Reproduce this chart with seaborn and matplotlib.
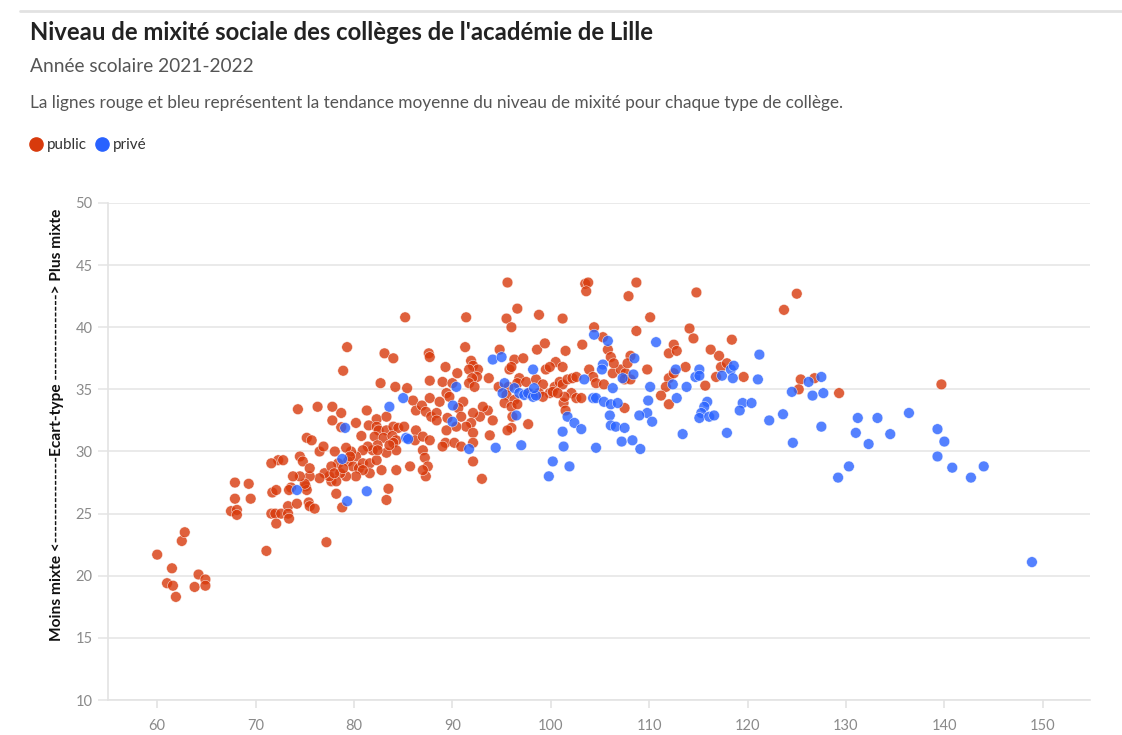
import matplotlib
matplotlib.use("Agg")
import matplotlib.pyplot as plt
from matplotlib.lines import Line2D
import seaborn as sns
import pandas as pd

# ---- data ----
public_x = [60.0, 61.5, 61.0, 61.6, 61.9, 62.5, 62.8, 64.2, 63.8, 64.9, 64.9,
            67.5, 68.1, 68.1, 67.9, 67.9, 69.3, 69.5, 71.1, 71.6, 72.0, 72.1, 72.6, 73.3, 73.3, 73.4,
            71.7, 72.1, 73.6, 73.4, 74.2, 75.1, 75.2, 75.4, 75.5, 76.0, 77.2, 77.7, 78.2, 78.8,
            79.3, 78.9, 83.1, 84.0, 87.6, 87.7, 87.7, 82.7, 84.2, 85.4,
            74.3, 76.3, 77.8, 78.7, 77.8, 78.7, 81.3, 82.3, 83.3, 80.2,
            81.5, 82.3, 82.5, 83.3, 84.0, 84.5, 85.1,
            80.75, 82.1, 83.0, 83.9, 84.3,
            86.3, 86.2, 87.0, 87.7,
            86.0, 86.3, 86.9, 87.3, 87.7, 87.85, 88.4, 88.7, 88.4,
            87.0, 87.2, 87.5, 87.3, 87.0,
            84.0, 84.3, 83.3, 83.6, 82.4, 81.9, 81.4, 80.9, 80.2, 79.7, 79.2, 79.4, 79.9, 80.5,
            80.9, 81.6, 82.3, 82.8, 81.6, 80.9, 80.2, 79.2, 78.6, 78.2, 77.5, 77.0, 76.5, 75.5,
            75.0, 74.5, 73.8,
            72.3, 71.6, 72.8, 74.5, 74.8, 75.5, 76.5, 76.9, 78.05, 78.4, 77.7, 78.0, 78.9, 79.6,
            83.3, 83.5, 84.3, 85.7, 82.4, 75.2, 75.7, 85.2,
            89.0, 90.0, 90.5, 89.4, 89.7,
            95.6, 91.4, 96.6, 95.5, 96.0, 98.8, 101.2, 103.5, 103.8, 103.6, 107.9, 108.7, 110.1,
            108.7, 104.4, 105.3, 103.2, 105.8, 106.1, 108.1, 109.8,
            91.3, 94.8, 96.3, 97.2, 98.6, 99.4, 101.5, 89.3,
            91.9, 92.1, 92.6, 91.7, 92.5, 92.0, 91.7, 92.25, 93.7, 94.7,
            95.8, 96.0, 96.8, 96.6, 97.5,
            95.7, 95.5, 95.3, 96.3, 96.0, 96.1, 96.0, 95.6, 96.6, 97.7, 93.8, 93.6, 94.1, 93.1,
            92.8, 92.1, 91.9, 91.4, 92.1, 91.1, 90.6, 90.9, 90.4, 89.5, 89.4, 89.3, 90.2, 90.9,
            89.0, 92.1, 92.1, 93.0,
            97.8, 98.5, 99.2, 99.9, 100.4, 100.9, 101.2, 101.7, 102.2, 102.6, 100.5, 101.2, 102.1,
            102.6, 103.1, 101.3, 101.5, 101.4, 99.5, 99.9, 98.8, 99.2, 100.2, 100.7, 103.9, 104.3,
            104.6, 105.4, 106.3, 107.1, 107.6, 107.5, 108.1, 107.8, 106.4, 107.5,
            112.0, 112.5, 112.8, 112.0, 111.7, 112.5, 113.7, 114.1, 111.2, 112.0,
            114.8, 114.5, 118.4, 116.25, 117.1, 117.3, 117.9, 115.7, 116.8, 119.6, 123.7, 125.0,
            125.4, 125.2, 126.8, 129.3, 139.7]
public_y = [21.7, 20.6, 19.4, 19.2, 18.3, 22.8, 23.5, 20.1, 19.1, 19.7, 19.2,
            25.2, 25.3, 24.9, 26.2, 27.5, 27.4, 26.2, 22.0, 25.0, 25.0, 24.2, 25.0, 25.6, 25.0, 24.6,
            26.7, 26.9, 27.1, 26.9, 25.8, 27.2, 26.9, 25.9, 25.6, 25.4, 22.7, 27.6, 26.6, 25.5,
            38.4, 36.5, 37.9, 37.5, 37.9, 37.6, 35.7, 35.5, 35.2, 35.1,
            33.4, 33.6, 33.6, 33.1, 32.5, 31.95, 33.3, 32.6, 32.8, 32.3,
            32.1, 32.0, 31.7, 31.7, 32.0, 31.9, 32.0,
            31.25, 31.2, 31.1, 31.25, 30.9,
            31.7, 30.9, 31.2, 30.9,
            34.1, 33.3, 33.7, 33.2, 34.3, 32.8, 33.1, 34.0, 32.5,
            30.1, 29.5, 28.8, 28.0, 28.5,
            30.7, 30.1, 29.9, 30.5, 30.5, 30.1, 30.4, 30.1, 29.6, 30.0, 30.3, 29.2, 28.8, 28.65,
            29.05, 29.05, 29.3, 28.5, 28.25, 28.5, 28.0, 28.0, 28.25, 27.6, 28.0, 28.25, 27.85, 28.0,
            27.4, 28.0, 28.0,
            29.3, 29.05, 29.3, 29.6, 29.2, 28.65, 30.0, 30.4, 30.0, 29.05, 28.8, 28.25, 28.65, 29.6,
            26.1, 27.0, 28.5, 28.8, 30.1, 31.1, 30.9, 40.8,
            35.6, 35.5, 36.3, 34.7, 34.4,
            43.6, 40.8, 41.5, 40.7, 40.0, 41.0, 40.7, 43.5, 43.6, 42.9, 42.5, 43.6, 40.8,
            39.7, 40.0, 39.2, 38.6, 38.2, 37.6, 37.7, 36.6,
            38.4, 38.2, 37.4, 37.5, 38.2, 38.7, 38.1, 36.8,
            37.3, 36.9, 36.6, 36.6, 36.0, 35.9, 35.5, 35.2, 35.9, 35.2,
            36.6, 36.8, 35.9, 35.5, 35.6,
            35.2, 34.55, 33.9, 34.15, 33.6, 32.8, 31.9, 31.7, 33.8, 32.2, 31.3, 33.3, 32.5, 33.6,
            32.8, 33.1, 32.3, 32.0, 31.5, 34.0, 33.5, 32.8, 32.0, 32.7, 31.7, 30.7, 30.7, 30.4,
            30.4, 30.7, 29.2, 27.8,
            34.7, 35.8, 35.4, 34.7, 35.2, 35.6, 35.4, 35.8, 35.9, 36.0, 37.2, 36.8, 34.7,
            34.3, 34.3, 33.9, 33.3, 34.4, 36.6, 36.8, 34.7, 34.4, 34.8, 34.7, 36.6, 36.0,
            35.5, 35.4, 36.3, 36.6, 36.3, 35.8, 35.8, 37.1, 37.1, 33.5,
            37.9, 38.6, 38.1, 35.9, 35.2, 36.3, 36.8, 39.9, 34.5, 33.8,
            42.8, 39.1, 39.0, 38.2, 37.7, 36.8, 37.1, 35.3, 36.0, 36.0, 41.4, 42.7,
            35.8, 35.0, 35.9, 34.7, 35.4]

prive_x = [74.2, 79.3, 81.3, 79.1, 78.8, 85.0, 83.6, 85.3, 85.5,
           90.05, 90.0, 91.7, 90.4,
           94.1, 95.0, 94.4, 97.0, 95.3, 95.1, 96.5, 96.3, 96.8, 97.3, 97.7, 98.2, 98.2, 98.5, 98.3,
           103.4, 104.4, 105.8, 105.3, 105.2, 104.3, 104.6, 101.7, 102.4, 103.1, 101.2, 101.3,
           100.2, 99.8, 101.9, 104.6,
           105.4, 106.1, 106.8, 106.0, 106.1, 106.6, 107.5, 107.2, 108.3, 109.1, 106.3, 107.3,
           108.5, 108.4, 110.1, 109.9, 109.8, 109.0, 110.3, 110.7,
           112.4, 112.7, 112.8, 113.8, 113.4,
           114.7, 115.1, 115.1, 115.9, 115.6, 115.3, 115.1, 116.1, 116.6, 117.4, 118.3, 118.6,
           118.5, 117.9, 119.5, 119.2, 120.4, 121.05, 121.2, 122.2, 123.6, 124.6, 124.5, 126.2,
           127.5, 126.6, 127.7, 127.5, 129.2, 130.3, 131.0, 131.2, 132.3, 133.2, 134.5, 136.4,
           139.3, 140.0, 139.3, 140.8, 142.7, 144.0, 148.9]
prive_y = [26.9, 26.0, 26.8, 31.9, 29.4, 34.3, 33.6, 31.1, 31.0,
           33.7, 32.4, 30.2, 35.2,
           37.4, 37.6, 30.3, 30.5, 35.5, 34.7, 32.9, 35.1, 34.7, 34.55, 34.7, 36.6, 34.4, 34.5, 35.1,
           35.8, 39.4, 38.9, 37.0, 36.6, 34.3, 34.3, 32.8, 32.3, 31.8, 31.6, 30.4,
           29.2, 28.0, 28.8, 30.3,
           34.0, 33.8, 33.9, 32.9, 32.1, 32.0, 31.9, 30.8, 30.9, 30.2, 35.1, 35.9,
           37.5, 36.2, 35.2, 34.1, 33.1, 32.9, 32.4, 38.8,
           35.4, 36.6, 34.3, 35.2, 31.4,
           36.0, 36.6, 36.1, 34.0, 33.6, 33.1, 32.7, 32.8, 32.9, 36.1, 36.6, 36.9,
           35.9, 31.5, 33.9, 33.3, 33.9, 35.8, 37.8, 32.5, 33.0, 30.7, 34.8, 35.6,
           36.0, 34.5, 34.7, 32.0, 27.9, 28.8, 31.5, 32.7, 30.6, 32.7, 31.4, 33.1,
           31.8, 30.8, 29.6, 28.7, 27.9, 28.8, 21.1]

categories = ["public", "privé"]
x_ticks = [60, 70, 80, 90, 100, 110, 120, 130, 140, 150]
y_ticks = [10, 15, 20, 25, 30, 35, 40, 45, 50]

title = "Niveau de mixité sociale des collèges de l'académie de Lille"
subtitle = "Année scolaire 2021-2022"
description = ("La lignes rouge et bleu représentent la tendance moyenne du niveau "
               "de mixité pour chaque type de collège.")
ylabel = "Moins mixte <---------------Ecart-type ---------------> Plus mixte"

RED = "#d83a0c"
BLUE = "#2962ff"
palette = {"public": RED, "privé": BLUE}

df = pd.DataFrame({
    "x": public_x + prive_x,
    "y": public_y + prive_y,
    "type": [categories[0]] * len(public_x) + [categories[1]] * len(prive_x),
})

sns.set_theme(style="white")
plt.rcParams["font.family"] = ["Lato", "DejaVu Sans"]

W, H = 1122, 735
fig = plt.figure(figsize=(W / 100, H / 100), dpi=100)
ax = fig.add_axes([108 / W, 1 - 700 / H, (1090 - 108) / W, (700 - 203) / H])

sns.scatterplot(data=df, x="x", y="y", hue="type", palette=palette, s=60,
                alpha=0.8, edgecolor="white", linewidth=0.4, legend=False, ax=ax)

ax.set_xlim(55, 154.8)
ax.set_ylim(10, 50)
ax.set_xticks(x_ticks)
ax.set_yticks(y_ticks)
ax.set_xlabel("")
ax.set_ylabel("")
ax.yaxis.grid(True, color="#e6e6e6", linewidth=1.2)
ax.xaxis.grid(False)
ax.set_axisbelow(True)
for side in ["top", "right"]:
    ax.spines[side].set_visible(False)
for side in ["left", "bottom"]:
    ax.spines[side].set_color("#e3e3e3")
    ax.spines[side].set_linewidth(1.2)
ax.tick_params(axis="y", length=7, width=1.2, color="#e6e6e6", labelcolor="#8a8a8a",
               labelsize=10.5, pad=4, left=True)
ax.tick_params(axis="x", length=6, width=1.2, color="#e3e3e3", labelcolor="#8a8a8a",
               labelsize=10.5, pad=8, bottom=True)

# top rule
fig.add_artist(Line2D([20 / W, 1], [1 - 11 / H, 1 - 11 / H], color="#e2e2e2",
                      linewidth=2, transform=fig.transFigure))

fig.text(30 / W, 1 - 33 / H, title, fontsize=17.2, fontweight="bold", color="#222222",
         va="center", ha="left")
fig.text(30 / W, 1 - 66 / H, subtitle, fontsize=13.8, color="#555555", va="center", ha="left")
fig.text(30 / W, 1 - 103 / H, description, fontsize=12.4, color="#555555", va="center",
         ha="left")
fig.text(57 / W, 1 - 425 / H, ylabel, rotation=90, fontsize=11.2, fontweight="bold",
         color="#111111", ha="center", va="center")

handles = [Line2D([0], [0], marker="o", linestyle="", markersize=9.5,
                  markerfacecolor=palette[c], markeredgecolor=palette[c]) for c in categories]
fig.legend(handles, categories, loc="center left", bbox_to_anchor=(29 / W, 1 - 145 / H),
           ncol=2, frameon=False, fontsize=11, handlelength=0.9, handletextpad=0.3,
           columnspacing=0.5, borderpad=0, borderaxespad=0, labelcolor="#333333")

fig.savefig("out.png", dpi=100)
